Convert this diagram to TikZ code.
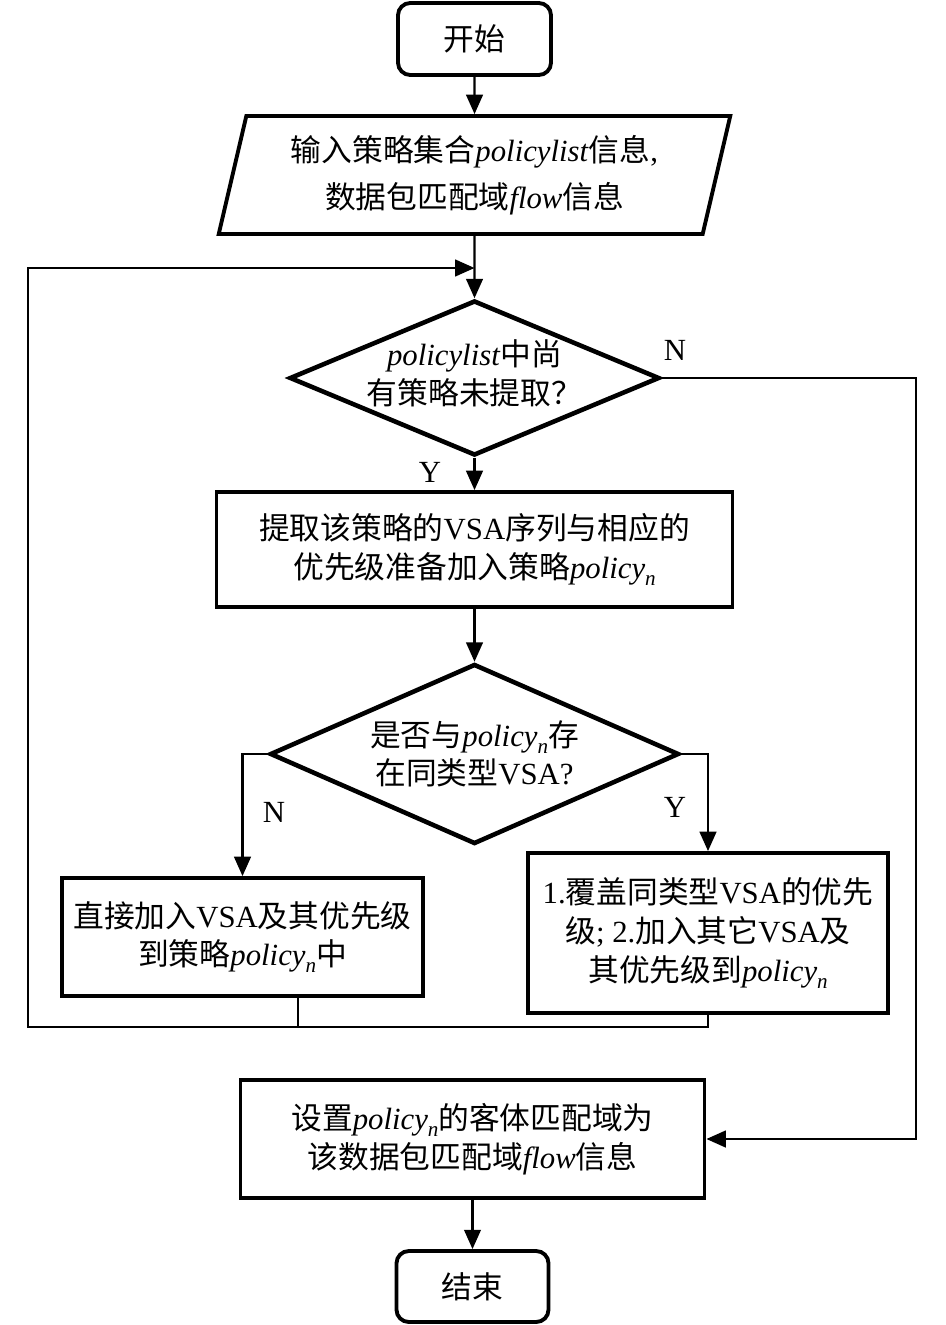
\documentclass[tikz,border=0pt]{standalone}
\usepackage{fontspec}
\setmainfont{Liberation Serif}
\newfontfamily\cjk{Noto Sans CJK SC}
\newcommand{\zh}[1]{{\cjk #1}}
\newcommand{\pn}{\textit{policy}\raisebox{-0.5ex}{\fontsize{12}{12}\selectfont\textit{n}}}
\usepackage{tikz}
\usetikzlibrary{positioning,shapes.geometric,arrows.meta}
\tikzset{>={Triangle[length=11pt,width=9.5pt]}}
\tikzset{
  term/.style={draw,line width=2.2pt,rounded corners=7pt,align=center},
  io/.style={draw,line width=2.2pt,trapezium,trapezium left angle=76,
    trapezium right angle=104,trapezium stretches=true,align=center},
  decision/.style={draw,line width=2.6pt,diamond,inner sep=0pt},
  process/.style={draw,line width=2.2pt,align=center},
  line/.style={line width=1.2pt},
}

\begin{document}
\begin{tikzpicture}[every node/.style={font=\fontsize{17.5}{22}\selectfont}]
    \useasboundingbox (0,0) rectangle (18.92,-26.5);
    % set up the nodes
    \node[term,minimum width=3.06cm,minimum height=1.44cm] (start) at (9.49,-0.78) {\zh{开始}};
    \node[io,minimum width=10.24cm,minimum height=2.36cm,font=\fontsize{17.5}{27}\selectfont] (input) at (9.49,-3.5)
        {\zh{输入策略集合}\textit{policylist}\zh{信息},\\ \zh{数据包匹配域}\textit{flow}\zh{信息}};
    \node[decision,minimum width=7.4cm,minimum height=3.1cm] (dec1) at (9.49,-7.56) {};
    \node[align=center] (dec1txt) at (9.49,-7.46) {\textit{policylist}\zh{中尚}\\ \zh{有策略未提取？}};
    \node[process,minimum width=10.32cm,minimum height=2.3cm] (box2) at (9.49,-10.99)
        {\zh{提取该策略的}VSA\zh{序列与相应的}\\ \zh{优先级准备加入策略}\pn};
    \node[decision,minimum width=8.18cm,minimum height=3.6cm] (dec2) at (9.49,-15.08) {};
    \node[align=center] (dec2txt) at (9.49,-15.08) {\zh{是否与}\pn\zh{存}\\ \zh{在同类型}VSA?};
    \node[process,minimum width=7.22cm,minimum height=2.36cm] (boxN) at (4.85,-18.74)
        {\zh{直接加入}VSA\zh{及其优先级}\\ \zh{到策略}\pn\zh{中}};
    \node[process,minimum width=7.2cm,minimum height=3.2cm] (boxY) at (14.16,-18.66)
        {1.\zh{覆盖同类型}VSA\zh{的优先}\\ \zh{级}; 2.\zh{加入其它}VSA\zh{及}\\ \zh{其优先级到}\pn};
    \node[process,minimum width=9.28cm,minimum height=2.36cm] (final) at (9.45,-22.78)
        {\zh{设置}\pn\zh{的客体匹配域为}\\ \zh{该数据包匹配域}\textit{flow}\zh{信息}};
    \node[term,minimum width=3.04cm,minimum height=1.42cm] (end) at (9.45,-25.73) {\zh{结束}};
    % branch labels
    \node (n1) at (13.5,-7.0) {N};
    \node (y1) at (8.6,-9.44) {Y};
    \node (n2) at (5.48,-16.24) {N};
    \node (y2) at (13.5,-16.14) {Y};
    % turning points
    \coordinate (join) at (9.49,-5.36);
    \coordinate (rt) at (18.32,-7.56);
    \coordinate (lpl) at (0.56,-20.54);
    \coordinate (stem) at (5.96,-20.54);
    % draw arrows between them
    \draw[line,->] (start) -- (input);
    \draw[line,->] (input) -- (dec1);
    \draw[line,->] (dec1) -- (box2);
    \draw[line,->] (box2) -- (dec2);
    \draw[line,->] (dec2.west) -| (boxN.north);
    \draw[line,->] (dec2.east) -| (boxY.north);
    \draw[line,->] (dec1.east) -- (rt) |- (final.east);
    \draw[line] (boxN.south -| stem) -- (stem);
    \draw[line,->] (boxY.south) |- (lpl) |- (join);
    \draw[line,->] (final) -- (end);
\end{tikzpicture}
\end{document}
